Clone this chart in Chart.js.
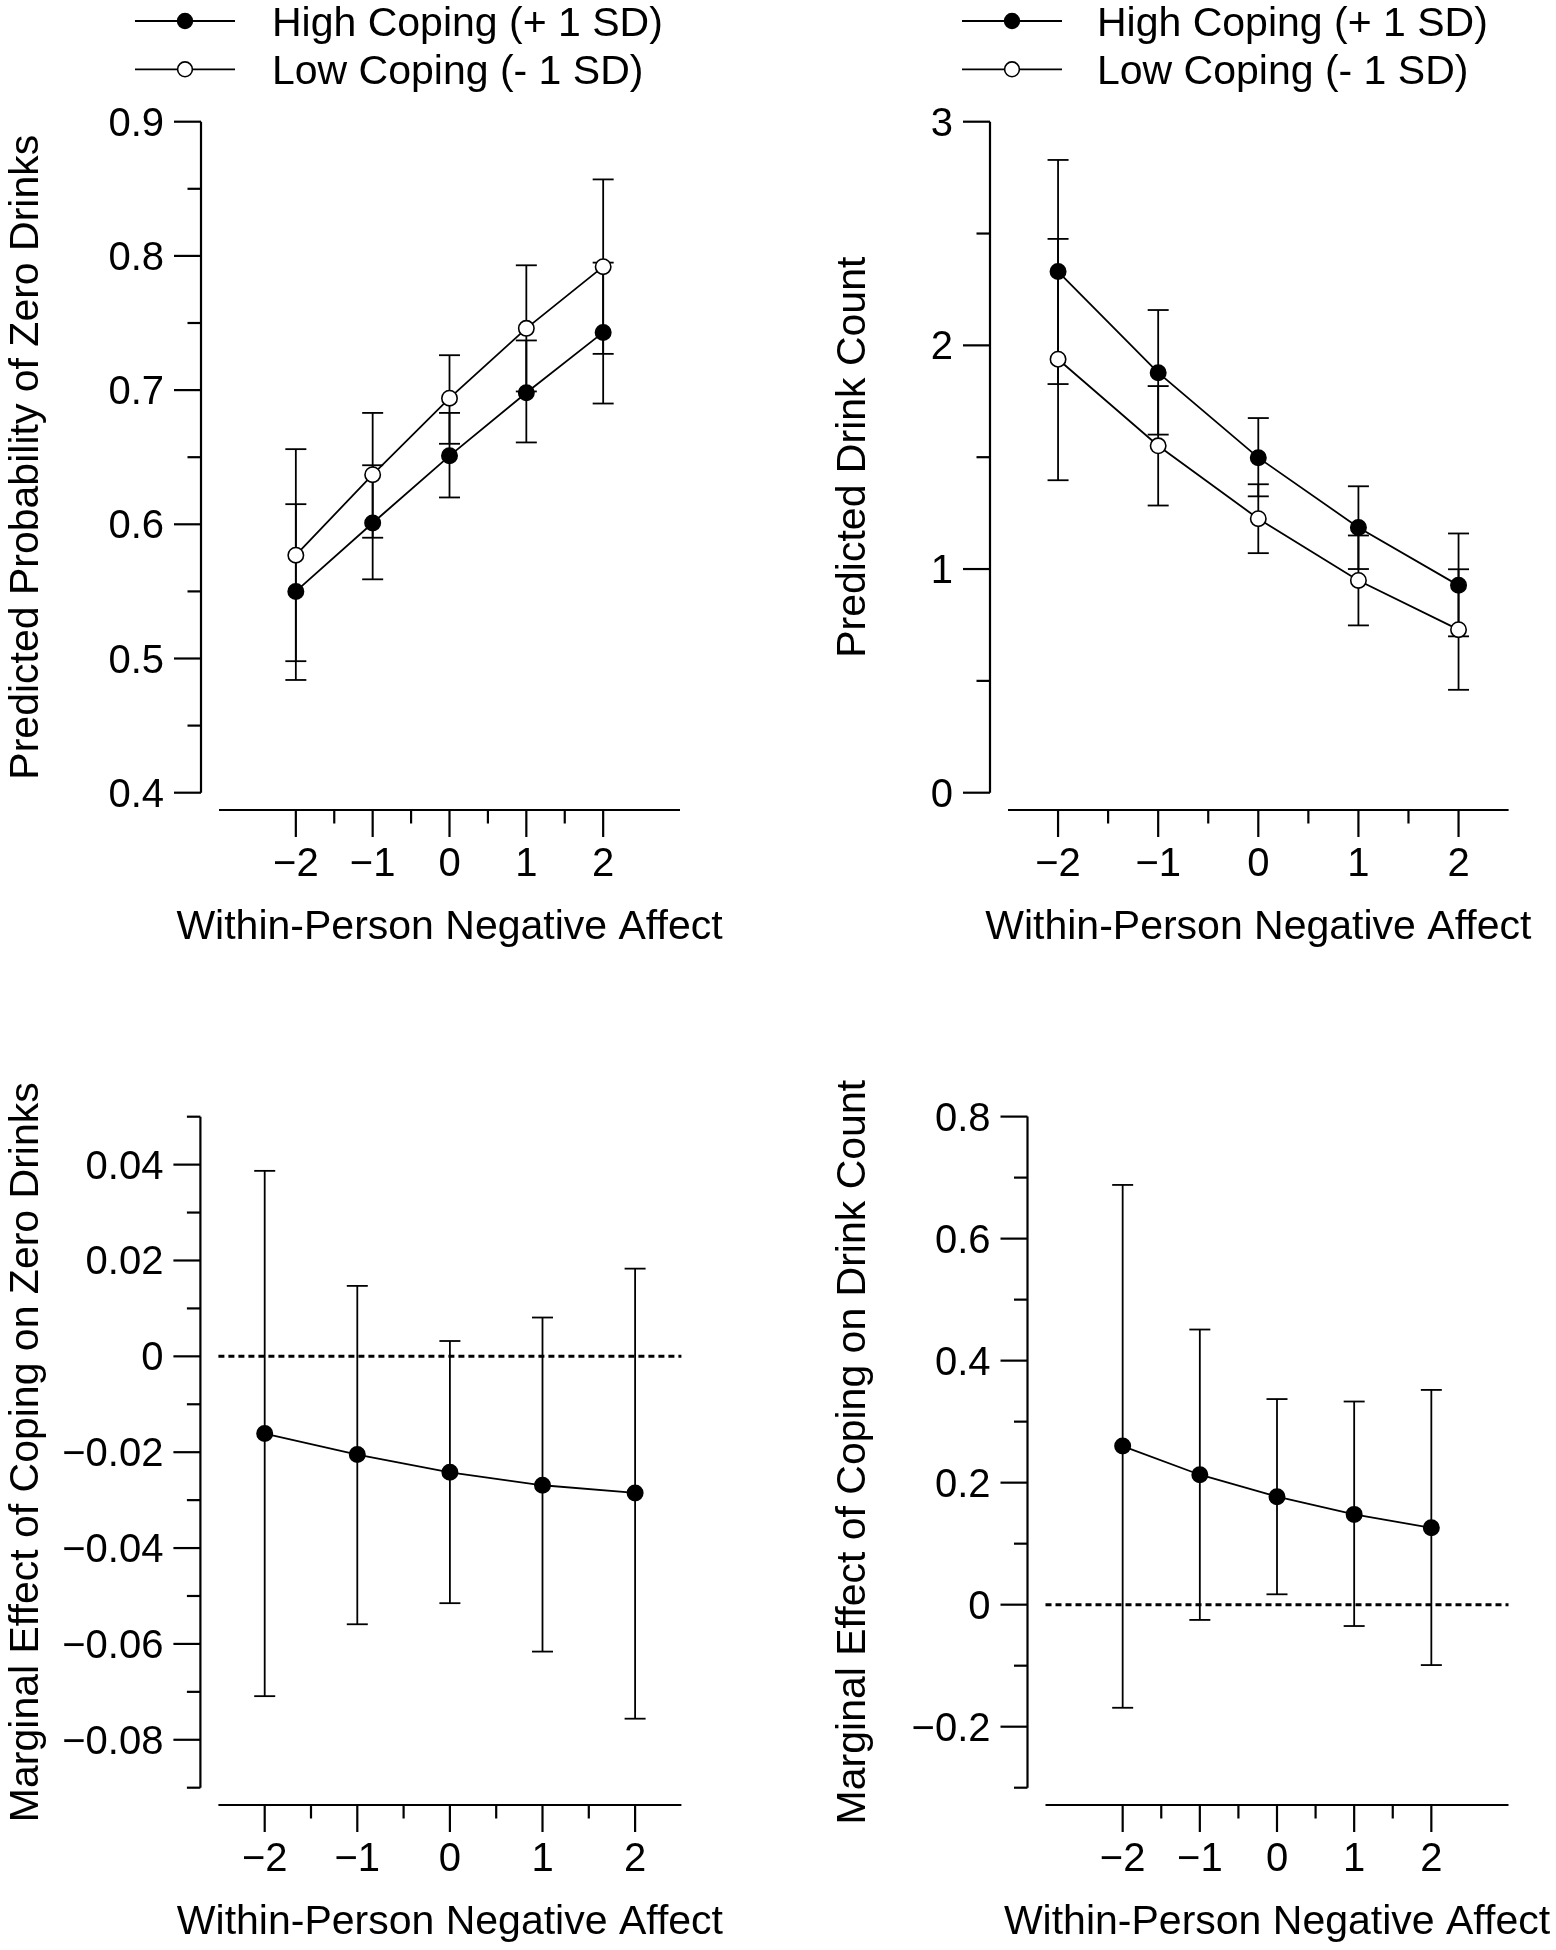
<!DOCTYPE html>
<html>
<head>
<meta charset="utf-8">
<script src="https://cdn.jsdelivr.net/npm/chart.js@4.4.0/dist/chart.umd.min.js"></script>
<style>
  body { margin: 0; background: #fff; width: 1556px; height: 1950px; position: relative; overflow: hidden; }
  canvas { position: absolute; }
</style>
</head>
<body>
<canvas id="zeroChart" width="778" height="975" style="left:0;top:0"></canvas>
<canvas id="countChart" width="778" height="975" style="left:778px;top:0"></canvas>
<canvas id="meZeroChart" width="778" height="975" style="left:0;top:975px"></canvas>
<canvas id="meCountChart" width="778" height="975" style="left:778px;top:975px"></canvas>
<script>
const xValues = [-2, -1, 0, 1, 2];
const xMajorTicks = [-2, -1, 0, 1, 2];
const xMinorTicks = [-1.5, -0.5, 0.5, 1.5];
const xTickLabels = ['−2', '−1', '0', '1', '2'];
const legendLabels = ['High Coping (+ 1 SD)', 'Low Coping (- 1 SD)'];
const xTitle = 'Within-Person Negative Affect';

// top left: probability of zero drinks
const zeroHigh   = [0.550, 0.601, 0.651, 0.698, 0.743];
const zeroHighLo = [0.484, 0.559, 0.620, 0.661, 0.690];
const zeroHighHi = [0.615, 0.644, 0.683, 0.737, 0.795];
const zeroLow    = [0.577, 0.637, 0.694, 0.746, 0.792];
const zeroLowLo  = [0.498, 0.590, 0.660, 0.699, 0.727];
const zeroLowHi  = [0.656, 0.683, 0.726, 0.793, 0.857];
const zeroYTicks = [0.4, 0.5, 0.6, 0.7, 0.8, 0.9];
const zeroYLabels = ['0.4', '0.5', '0.6', '0.7', '0.8', '0.9'];
const zeroYMinor = [0.45, 0.55, 0.65, 0.75, 0.85];

// top right: drink count
const countHigh   = [2.330, 1.878, 1.498, 1.186, 0.927];
const countHighLo = [1.827, 1.601, 1.325, 1.000, 0.699];
const countHighHi = [2.829, 2.158, 1.675, 1.370, 1.159];
const countLow    = [1.938, 1.551, 1.225, 0.949, 0.729];
const countLowLo  = [1.397, 1.284, 1.071, 0.748, 0.460];
const countLowHi  = [2.476, 1.818, 1.379, 1.150, 0.999];
const countYTicks = [0, 1, 2, 3];
const countYLabels = ['0', '1', '2', '3'];
const countYMinor = [0.5, 1.5, 2.5];

// bottom left: marginal effect on zero drinks
const meZero   = [-0.0161, -0.0205, -0.0242, -0.0269, -0.0285];
const meZeroLo = [-0.0709, -0.0559, -0.0515, -0.0616, -0.0756];
const meZeroHi = [0.0387, 0.0147, 0.0032, 0.0081, 0.0183];
const meZeroYTicks = [-0.08, -0.06, -0.04, -0.02, 0, 0.02, 0.04];
const meZeroYLabels = ['−0.08', '−0.06', '−0.04', '−0.02', '0', '0.02', '0.04'];
const meZeroYMinor = [-0.09, -0.07, -0.05, -0.03, -0.01, 0.01, 0.03, 0.05];

// bottom right: marginal effect on drink count
const meCount   = [0.260, 0.213, 0.177, 0.148, 0.126];
const meCountLo = [-0.169, -0.025, 0.017, -0.035, -0.099];
const meCountHi = [0.688, 0.451, 0.337, 0.333, 0.352];
const meCountYTicks = [-0.2, 0, 0.2, 0.4, 0.6, 0.8];
const meCountYLabels = ['−0.2', '0', '0.2', '0.4', '0.6', '0.8'];
const meCountYMinor = [-0.3, -0.1, 0.1, 0.3, 0.5, 0.7];

const FONT = '"Liberation Sans", Arial, Helvetica, sans-serif';

function pts(ys) {
    return xValues.map((x, i) => ({ x: x, y: ys[i] }));
}

function seg(ctx, x1, y1, x2, y2) {
    ctx.beginPath();
    ctx.moveTo(x1, y1);
    ctx.lineTo(x2, y2);
    ctx.stroke();
}

// R style detached axes, drawn from the chart scales
const rAxes = {
    id: 'rAxes',
    afterDraw(chart, args, o) {
        const ctx = chart.ctx, ca = chart.chartArea;
        const xs = chart.scales.x, ys = chart.scales.y;
        ctx.save();
        ctx.strokeStyle = '#000';
        ctx.fillStyle = '#000';
        ctx.lineWidth = 2.2;

        // y axis
        const ax = ca.left - 18;
        seg(ctx, ax, ys.getPixelForValue(ys.min), ax, ys.getPixelForValue(ys.max));
        o.yTicks.forEach(v => { const y = ys.getPixelForValue(v); seg(ctx, ax - 27, y, ax, y); });
        o.yMinor.forEach(v => { const y = ys.getPixelForValue(v); seg(ctx, ax - 13.5, y, ax, y); });
        ctx.font = '40px ' + FONT;
        ctx.textAlign = 'right';
        ctx.textBaseline = 'alphabetic';
        o.yTicks.forEach((v, i) => ctx.fillText(o.yLabels[i], ax - 37, ys.getPixelForValue(v) + 14));

        // x axis
        const ay = ca.bottom + 17.3;
        seg(ctx, xs.getPixelForValue(xs.min), ay, xs.getPixelForValue(xs.max), ay);
        xMajorTicks.forEach(v => { const x = xs.getPixelForValue(v); seg(ctx, x, ay, x, ay + 27); });
        xMinorTicks.forEach(v => { const x = xs.getPixelForValue(v); seg(ctx, x, ay, x, ay + 13.5); });
        ctx.textAlign = 'center';
        xMajorTicks.forEach((v, i) => ctx.fillText(xTickLabels[i], xs.getPixelForValue(v), ay + 66));

        // titles
        ctx.font = '41px ' + FONT;
        ctx.fillText(xTitle, (ca.left + ca.right) / 2, ay + 129);
        ctx.translate(o.yTitleX, (ys.getPixelForValue(ys.min) + ys.getPixelForValue(ys.max)) / 2);
        ctx.rotate(-Math.PI / 2);
        ctx.fillText(o.yTitle, 0, 0);
        ctx.restore();
    }
};

const errorBars = {
    id: 'errorBars',
    beforeDatasetsDraw(chart, args, o) {
        const ctx = chart.ctx, xs = chart.scales.x, ys = chart.scales.y;
        ctx.save();
        ctx.strokeStyle = '#000';
        ctx.lineWidth = 1.8;
        o.sets.forEach(s => {
            xValues.forEach((xv, i) => {
                const x = xs.getPixelForValue(xv);
                const y1 = ys.getPixelForValue(s.lo[i]), y2 = ys.getPixelForValue(s.hi[i]);
                seg(ctx, x, y1, x, y2);
                seg(ctx, x - 10.5, y1, x + 10.5, y1);
                seg(ctx, x - 10.5, y2, x + 10.5, y2);
            });
        });
        ctx.restore();
    }
};

const rLegend = {
    id: 'rLegend',
    afterDraw(chart, args, o) {
        if (!o.show) return;
        const ctx = chart.ctx;
        ctx.save();
        ctx.font = '41px ' + FONT;
        ctx.textAlign = 'left';
        ctx.textBaseline = 'alphabetic';
        o.items.forEach((it, i) => {
            const y = o.rows[i];
            ctx.strokeStyle = '#000';
            ctx.lineWidth = 1.8;
            seg(ctx, o.x0, y, o.x1, y);
            ctx.beginPath();
            ctx.arc((o.x0 + o.x1) / 2, y, 7.4, 0, Math.PI * 2);
            ctx.fillStyle = it.fill;
            ctx.fill();
            ctx.lineWidth = 1.6;
            ctx.stroke();
            ctx.fillStyle = '#000';
            ctx.fillText(it.text, o.textX, y + 14.7);
        });
        ctx.restore();
    }
};

function series(data, fill) {
    return {
        data: pts(data),
        borderColor: '#000',
        borderWidth: 1.8,
        pointRadius: 7.7,
        pointHoverRadius: 7.7,
        pointBackgroundColor: fill,
        pointBorderColor: '#000',
        pointBorderWidth: 1.6,
        tension: 0,
        clip: false
    };
}

function zeroLine(x0, x1) {
    return {
        data: [{ x: x0, y: 0 }, { x: x1, y: 0 }],
        borderColor: '#000',
        borderWidth: 3,
        borderDash: [6, 4],
        pointRadius: 0,
        clip: false
    };
}

function makeChart(id, cfg) {
    new Chart(document.getElementById(id), {
        type: 'line',
        data: { datasets: cfg.datasets },
        options: {
            responsive: false,
            animation: false,
            events: [],
            layout: { padding: cfg.padding },
            scales: {
                x: { type: 'linear', min: cfg.xMin, max: cfg.xMax, display: false },
                y: { type: 'linear', min: cfg.yMin, max: cfg.yMax, display: false }
            },
            plugins: {
                legend: { display: false },
                tooltip: { enabled: false },
                rAxes: {
                    yTicks: cfg.yTicks, yLabels: cfg.yLabels, yMinor: cfg.yMinor,
                    yTitle: cfg.yTitle, yTitleX: cfg.yTitleX
                },
                errorBars: { sets: cfg.errors },
                rLegend: cfg.legend || { show: false }
            }
        },
        plugins: [errorBars, rAxes, rLegend]
    });
}

makeChart('zeroChart', {
    datasets: [series(zeroLow, '#fff'), series(zeroHigh, '#000')],
    errors: [{ lo: zeroLowLo, hi: zeroLowHi }, { lo: zeroHighLo, hi: zeroHighHi }],
    padding: { left: 219, right: 98, top: 121.7, bottom: 182.3 },
    xMin: -3, xMax: 3, yMin: 0.4, yMax: 0.9,
    yTicks: zeroYTicks, yLabels: zeroYLabels, yMinor: zeroYMinor,
    yTitle: 'Predicted Probability of Zero Drinks', yTitleX: 38,
    legend: {
        show: true, x0: 135, x1: 235, textX: 272, rows: [21, 69.3],
        items: [{ text: legendLabels[0], fill: '#000' }, { text: legendLabels[1], fill: '#fff' }]
    }
});

makeChart('countChart', {
    datasets: [series(countLow, '#fff'), series(countHigh, '#000')],
    errors: [{ lo: countLowLo, hi: countLowHi }, { lo: countHighLo, hi: countHighHi }],
    padding: { left: 230, right: 47.4, top: 121.7, bottom: 182.3 },
    xMin: -2.5, xMax: 2.5, yMin: 0, yMax: 3,
    yTicks: countYTicks, yLabels: countYLabels, yMinor: countYMinor,
    yTitle: 'Predicted Drink Count', yTitleX: 87,
    legend: {
        show: true, x0: 184, x1: 284, textX: 319, rows: [21, 69.3],
        items: [{ text: legendLabels[0], fill: '#000' }, { text: legendLabels[1], fill: '#fff' }]
    }
});

makeChart('meZeroChart', {
    datasets: [zeroLine(-2.5, 2.5), series(meZero, '#000')],
    errors: [{ lo: meZeroLo, hi: meZeroHi }],
    padding: { left: 218.4, right: 96.6, top: 141.7, bottom: 162.3 },
    xMin: -2.5, xMax: 2.5, yMin: -0.09, yMax: 0.05,
    yTicks: meZeroYTicks, yLabels: meZeroYLabels, yMinor: meZeroYMinor,
    yTitle: 'Marginal Effect of Coping on Zero Drinks', yTitleX: 38
});

makeChart('meCountChart', {
    datasets: [zeroLine(-3, 3), series(meCount, '#000')],
    errors: [{ lo: meCountLo, hi: meCountHi }],
    padding: { left: 267.5, right: 47.5, top: 141.6, bottom: 162.3 },
    xMin: -3, xMax: 3, yMin: -0.3, yMax: 0.8,
    yTicks: meCountYTicks, yLabels: meCountYLabels, yMinor: meCountYMinor,
    yTitle: 'Marginal Effect of Coping on Drink Count', yTitleX: 87
});
</script>
</body>
</html>
